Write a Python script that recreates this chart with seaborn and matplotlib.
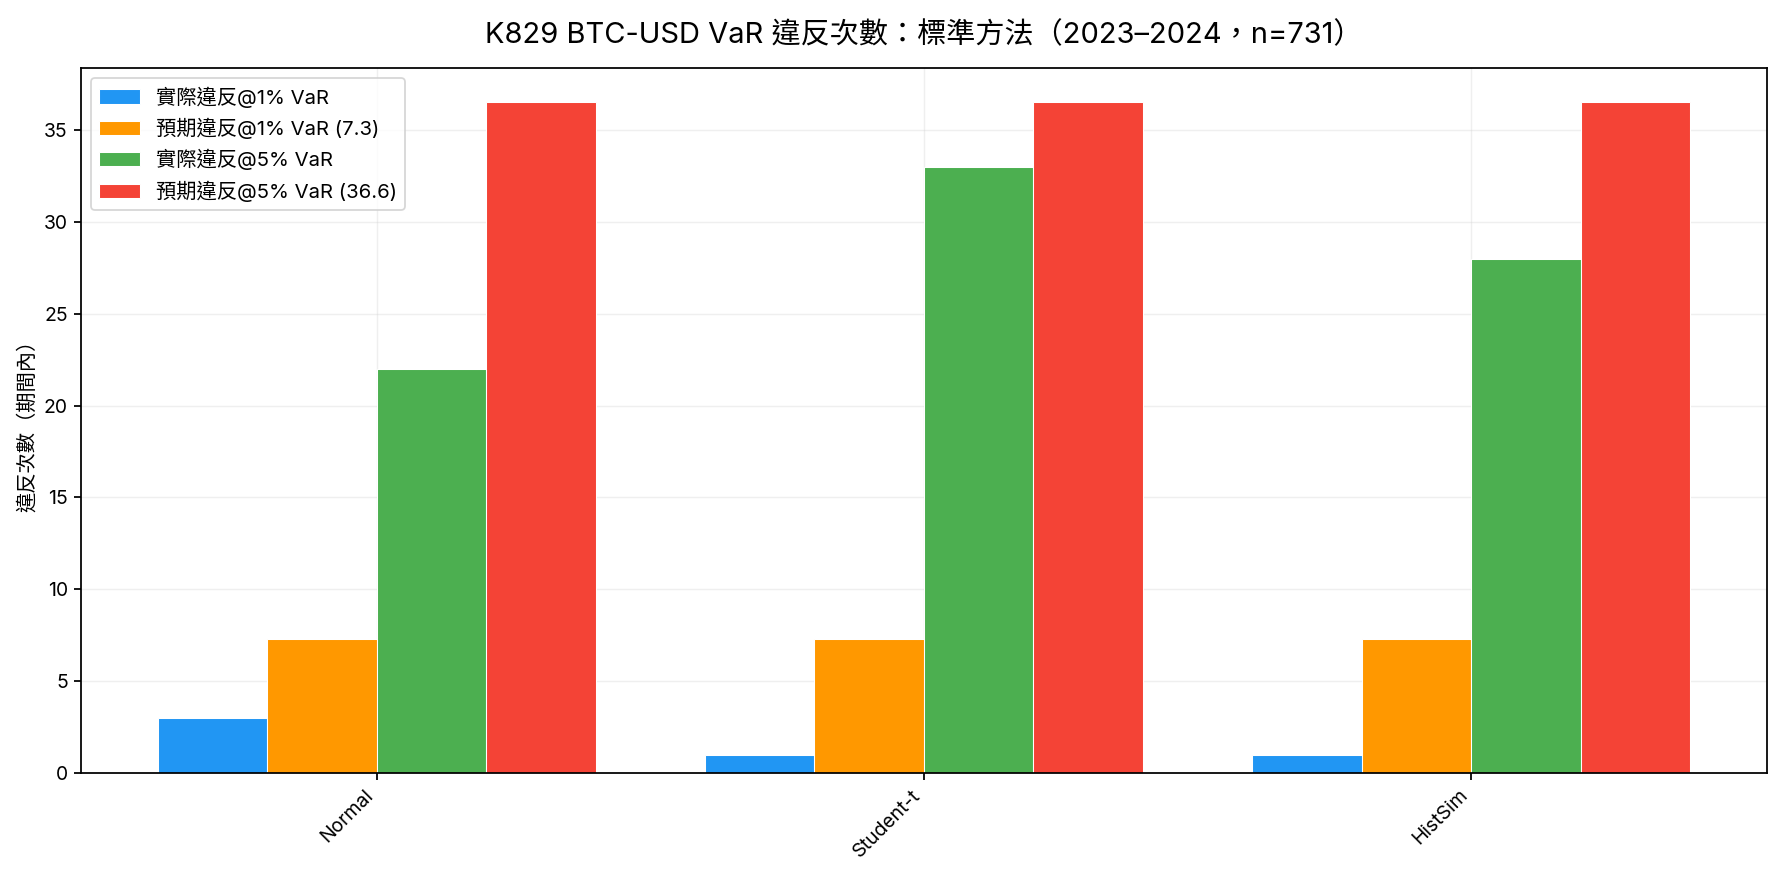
import matplotlib.pyplot as plt
import pandas as pd
import seaborn as sns

methods = ["Normal", "Student-t", "HistSim"]
series_names = ["實際違反@1% VaR", "預期違反@1% VaR (7.3)",
                "實際違反@5% VaR", "預期違反@5% VaR (36.6)"]
actual_1 = [3, 1, 1]
expected_1 = [7.31, 7.31, 7.31]
actual_5 = [22, 33, 28]
expected_5 = [36.55, 36.55, 36.55]
colors = ["#2196F3", "#FF9800", "#4CAF50", "#F44336"]

rows = []
for name, vals in zip(series_names, [actual_1, expected_1, actual_5, expected_5]):
    for m, v in zip(methods, vals):
        rows.append({"method": m, "series": name, "count": v})
df = pd.DataFrame(rows)

sns.set_style("white")
plt.rcParams["font.family"] = ["Inter", "Noto Sans CJK TC", "DejaVu Sans"]

fig = plt.figure(figsize=(1783 / 127, 883 / 127), dpi=127)
ax = fig.add_axes([0.0454, 0.1246, 0.9456, 0.7984])

sns.barplot(data=df, x="method", y="count", hue="series", order=methods,
            hue_order=series_names, palette=colors, saturation=1,
            edgecolor="white", linewidth=0.6, ax=ax)

ax.set_xlim(-0.54, 2.54)
ax.set_ylim(0, 36.55 * 1.05)
ax.grid(True, alpha=0.3)
ax.set_axisbelow(True)
for s in ax.spines.values():
    s.set_color("black")
    s.set_linewidth(1.0)
ax.tick_params(axis="both", length=4, width=1, color="black", labelsize=11,
               labelcolor="black", bottom=True, left=True)
plt.setp(ax.get_xticklabels(), rotation=45, ha="right")
ax.set_xlabel("")
ax.set_ylabel("違反次數（期間內）", fontsize=11.5, color="black")
ax.set_title("K829 BTC-USD VaR 違反次數：標準方法（2023–2024，n=731）",
             fontsize=16.5, pad=14, color="black")
ax.legend(loc="upper left", fontsize=11.5, title=None, labelcolor="black")

fig.savefig("out.png", dpi=127)
